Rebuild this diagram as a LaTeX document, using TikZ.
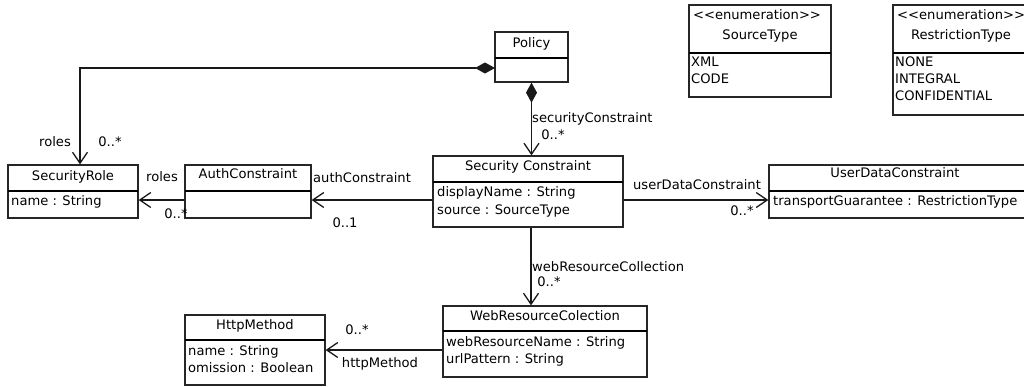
\documentclass[tikz,border=0pt]{standalone}
\usepackage{fontspec}
\setmainfont{DejaVu Sans}[Ligatures=NoCommon]
\usetikzlibrary{arrows.meta}
\tikzset{
  cls/.style={draw=black!85, line width=1.3pt, rectangle, inner sep=0pt},
  divider/.style={draw=black, line width=2.2pt},
  txt/.style={inner sep=0pt, font=\fontsize{13.1}{16}\selectfont, text height=9.5pt, text depth=2.5pt},
  attr/.style={txt, anchor=west},
  assoc/.style={draw=black!90, line width=1.3pt, -{Straight Barb[length=11pt,width=15pt,line width=1.3pt]}},
  comp/.style={draw=black!90, line width=1.3pt, {Diamond[length=20pt,width=11pt]}-{Straight Barb[length=11pt,width=15pt,line width=1.3pt]}}
}
\newcommand{\enumlabel}{<{}<enumeration>{}>}
\begin{document}
\begin{tikzpicture}[x=1pt,y=-1pt]
\useasboundingbox (0,0) rectangle (1024,386);

% Policy
\node[cls, minimum width=73pt, minimum height=50pt] (policy) at (531.5,57) {};
\draw[divider] (495,58) -- (568,58);
\node[txt] (policyT) at (531.5,44) {Policy};

% SecurityRole
\node[cls, minimum width=130pt, minimum height=53pt] (sr) at (73,191.5) {};
\draw[divider] (8,191) -- (138,191);
\node[txt] (srT) at (73,177) {SecurityRole};
\node[attr] (srA) at (11,202) {name : String};

% AuthConstraint
\node[cls, minimum width=126pt, minimum height=53pt] (ac) at (248,191.5) {};
\draw[divider] (185,191) -- (311,191);
\node[txt] (acT) at (248,175) {AuthConstraint};

% Security Constraint
\node[cls, minimum width=190pt, minimum height=71pt] (sc) at (528,191.5) {};
\draw[divider] (433,182) -- (623,182);
\node[txt] (scT) at (528,167) {Security Constraint};
\node[attr] (scA1) at (437,193) {displayName : String};
\node[attr] (scA2) at (437,211) {source : SourceType};

% UserDataConstraint
\node[cls, minimum width=262pt, minimum height=53pt] (udc) at (900,191.5) {};
\draw[divider] (769,191) -- (1031,191);
\node[txt] (udcT) at (895,174) {UserDataConstraint};
\node[attr] (udcA) at (773,202) {transportGuarantee : RestrictionType};

% WebResourceColection
\node[cls, minimum width=204pt, minimum height=71pt] (wrc) at (545,341.5) {};
\draw[divider] (443,331) -- (647,331);
\node[txt] (wrcT) at (545,317) {WebResourceColection};
\node[attr] (wrcA1) at (446,343) {webResourceName : String};
\node[attr] (wrcA2) at (446,360) {urlPattern : String};

% HttpMethod
\node[cls, minimum width=140pt, minimum height=70pt] (http) at (255,350) {};
\draw[divider] (185,340) -- (325,340);
\node[txt] (httpT) at (255,326) {HttpMethod};
\node[attr] (httpA1) at (188,352) {name : String};
\node[attr] (httpA2) at (188,369) {omission : Boolean};

% SourceType enum
\node[cls, minimum width=142pt, minimum height=92pt] (st) at (760,51) {};
\draw[divider] (689,53) -- (831,53);
\node[txt] (stS) at (757,16) {\enumlabel};
\node[txt] (stT) at (760,36) {SourceType};
\node[attr] (stA1) at (691,63) {XML};
\node[attr] (stA2) at (691,80) {CODE};

% RestrictionType enum
\node[cls, minimum width=136pt, minimum height=110pt] (rt) at (961,60) {};
\draw[divider] (893,53) -- (1029,53);
\node[txt, anchor=west] (rtS) at (897,16) {\enumlabel};
\node[txt] (rtT) at (961,36) {RestrictionType};
\node[attr] (rtA1) at (895,63) {NONE};
\node[attr] (rtA2) at (895,80) {INTEGRAL};
\node[attr] (rtA3) at (895,97) {CONFIDENTIAL};

% Connectors
\coordinate (pw) at (495,68);
\draw[comp] (pw) -| ([xshift=7pt]sr.north);
\node[txt] (l1) at (55,143) {roles};
\node[txt] (l2) at (110,143) {0..*};

\draw[comp] (policy.south) -- (policy.south |- sc.north);
\node[txt, anchor=west] (l3) at (532,119) {securityConstraint};
\node[txt] (l4) at (553,136) {0..*};

\draw[assoc] ([yshift=-8.5pt]ac.west) -- ([yshift=-8.5pt]sr.east);
\node[txt] (l5) at (162,178) {roles};
\node[txt] (l6) at (176,215) {0..*};

\draw[assoc] ([yshift=-8.5pt]sc.west) -- ([yshift=-8.5pt]ac.east);
\node[txt, anchor=west] (l7) at (313,179) {authConstraint};
\node[txt] (l8) at (345,224) {0..1};

\draw[assoc] ([yshift=-8.5pt]sc.east) -- ([yshift=-8.5pt]udc.west);
\node[txt] (l9) at (697,186) {userDataConstraint};
\node[txt] (l10) at (742,212) {0..*};

\draw[assoc] ([xshift=3pt]sc.south) -- ([xshift=3pt]sc.south |- wrc.north);
\node[txt, anchor=west] (l11) at (532,268) {webResourceCollection};
\node[txt] (l12) at (549,283) {0..*};

\draw[assoc] (wrc.west |- http.east) -- (http.east);
\node[txt] (l13) at (357,331) {0..*};
\node[txt] (l14) at (380,364) {httpMethod};
\end{tikzpicture}
\end{document}
